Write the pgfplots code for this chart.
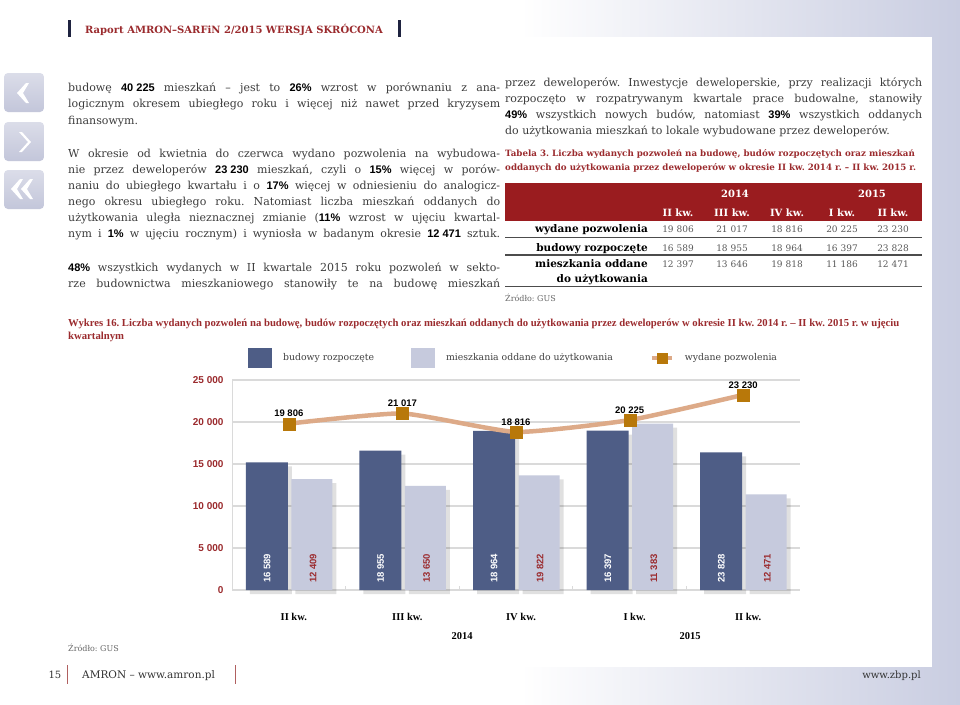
\documentclass[border=0pt]{standalone}
\usepackage{fontspec}
\usepackage{graphicx}
\usepackage{pgfplots}
\pgfplotsset{compat=1.18}
\setmainfont{DejaVu Serif}
\newfontfamily\hs{Liberation Sans}
\newfontfamily\ls{Liberation Serif}
\frenchspacing
\definecolor{dred}{HTML}{9B2B2E}
\definecolor{tred}{HTML}{9A1C1F}
\definecolor{navy}{HTML}{1F2340}
\definecolor{bdark}{HTML}{4E5D86}
\definecolor{blight}{HTML}{C6CADD}
\definecolor{linec}{HTML}{DDAA88}
\definecolor{markc}{HTML}{B8780A}
\definecolor{lav}{HTML}{C9CDE1}
\definecolor{icon}{HTML}{C3C6DA}
\definecolor{gridc}{HTML}{DADADA}
\definecolor{txt}{HTML}{3C3C3C}
\definecolor{foot}{HTML}{B06060}
\pgfplotsset{
  darkleg/.style={legend image code/.code={\fill[bdark] (0pt,-10pt) rectangle (24pt,10pt);}},
  lightleg/.style={legend image code/.code={\fill[blight] (0pt,-10pt) rectangle (24pt,10pt);}},
  lineleg/.style={legend image code/.code={\draw[##1, line width=4pt, mark size=5pt, mark repeat=2, mark phase=2] plot coordinates {(0pt,0pt) (10pt,0pt) (20pt,0pt)};}},
}
\newcommand\B[1]{\mbox{\hs\bfseries\color{black}#1}}
\newcommand\bodyfont{\fontsize{11}{16}\selectfont}
\newcommand\JL[4]{\node[anchor=base west,inner sep=0,text=txt] at (#1pt,-#2pt) {\bodyfont\makebox[#3pt][s]{#4}};}
\newcommand\LL[3]{\node[anchor=base west,inner sep=0,text=txt] at (#1pt,-#2pt) {\bodyfont #3};}
\newcommand\BL[3]{\node[rotate=90,anchor=west,inner sep=0,text=#3,font=\hs\bfseries\fontsize{9.5}{11}\selectfont] at (axis cs:#1,830) {#2};}
\begin{document}
\begin{tikzpicture}[x=1pt,y=1pt]
\useasboundingbox (0,0) rectangle (960,-704);
% background
\fill[white] (0,0) rectangle (960,-704);
\shade[left color=white,right color=lav] (520,0) rectangle (960,-704);
\fill[white] (0,-37) rectangle (932,-667);
% header
\fill[navy] (68,-20) rectangle (70.5,-37);
\fill[navy] (398,-20) rectangle (400.5,-37);
\node[anchor=base west,inner sep=0,text=dred] at (85,-33) {\fontsize{10}{12}\selectfont\bfseries Raport AMRON–SARFiN 2/2015 WERSJA SKRÓCONA};
% left icons
\foreach \t in {73,122,170} {
  \shade[top color=icon!60,bottom color=icon,rounded corners=4pt] (4,-\t) rectangle (44,-\t-39);
}
\fill[white] (26,-83) -- (17,-93) -- (26,-103) -- (29,-103) -- (23,-93) -- (29,-83) -- cycle;
\fill[white] (19,-132) -- (28,-142) -- (19,-152) -- (22,-152) -- (31,-142) -- (22,-132) -- cycle;
\fill[white] (20,-179) -- (11,-189) -- (20,-199) -- (23,-199) -- (17,-189) -- (23,-179) -- cycle;
\fill[white] (30,-179) -- (21,-189) -- (30,-199) -- (33,-199) -- (27,-189) -- (33,-179) -- cycle;
% left column text
\JL{68}{91}{432}{budowę \B{40 225} mieszkań – jest to \B{26\%} wzrost w porównaniu z ana-}
\JL{68}{107}{432}{logicznym okresem ubiegłego roku i więcej niż nawet przed kryzysem}
\LL{68}{124}{finansowym.}
\JL{68}{157}{432}{W okresie od kwietnia do czerwca wydano pozwolenia na wybudowa-}
\JL{68}{173}{432}{nie przez deweloperów \B{23 230} mieszkań, czyli o \B{15\%} więcej w porów-}
\JL{68}{189}{432}{naniu do ubiegłego kwartału i o \B{17\%} więcej w odniesieniu do analogicz-}
\JL{68}{205}{432}{nego okresu ubiegłego roku. Natomiast liczba mieszkań oddanych do}
\JL{68}{221}{432}{użytkowania uległa nieznacznej zmianie (\B{11\%} wzrost w ujęciu kwartal-}
\JL{68}{237}{432}{nym i \B{1\%} w ujęciu rocznym) i wyniosła w badanym okresie \B{12 471} sztuk.}
\JL{68}{271}{432}{\B{48\%} wszystkich wydanych w II kwartale 2015 roku pozwoleń w sekto-}
\JL{68}{287}{432}{rze budownictwa mieszkaniowego stanowiły te na budowę mieszkań}
% right column text
\JL{505}{86}{417}{przez deweloperów. Inwestycje deweloperskie, przy realizacji których}
\JL{505}{102}{417}{rozpoczęto w rozpatrywanym kwartale prace budowalne, stanowiły}
\JL{505}{118}{417}{\B{49\%} wszystkich nowych budów, natomiast \B{39\%} wszystkich oddanych}
\LL{505}{134}{do użytkowania mieszkań to lokale wybudowane przez deweloperów.}
% table caption
\node[anchor=base west,inner sep=0,text=dred] at (505,-156) {\fontsize{8.7}{10}\selectfont\bfseries Tabela 3. Liczba wydanych pozwoleń na budowę, budów rozpoczętych oraz mieszkań};
\node[anchor=base west,inner sep=0,text=dred] at (505,-170) {\fontsize{8.7}{10}\selectfont\bfseries oddanych do użytkowania przez deweloperów w okresie II kw. 2014 r. – II kw. 2015 r.};
% table
\fill[tred] (505,-183) rectangle (922,-221);
\foreach \x/\s in {735/2014,872/2015} {\node[anchor=base,inner sep=0,text=white] at (\x,-197) {\fontsize{10}{12}\selectfont\bfseries \s};}
\foreach \x/\s in {678/II kw.,732/III kw.,787/IV kw.,842/I kw.,893/II kw.} {\node[anchor=base,inner sep=0,text=white] at (\x,-216) {\fontsize{10}{12}\selectfont\bfseries \s};}
\foreach \y in {237.5,255,286.7} {\draw[line width=1.4pt,black!70] (505,-\y) -- (922,-\y);}
\node[anchor=base east,inner sep=0] at (648,-232) {\fontsize{10.5}{12}\selectfont\bfseries wydane pozwolenia};
\node[anchor=base east,inner sep=0] at (648,-251) {\fontsize{10.5}{12}\selectfont\bfseries budowy rozpoczęte};
\node[anchor=base east,inner sep=0] at (648,-267) {\fontsize{10.5}{12}\selectfont\bfseries mieszkania oddane};
\node[anchor=base east,inner sep=0] at (648,-282) {\fontsize{10.5}{12}\selectfont\bfseries do użytkowania};
\foreach \x/\a/\b/\c in {678/19 806/16 589/12 397,732/21 017/18 955/13 646,787/18 816/18 964/19 818,842/20 225/16 397/11 186,893/23 230/23 828/12 471} {
  \node[anchor=base,inner sep=0,text=black!65] at (\x,-232) {\fontsize{9}{11}\selectfont \a};
  \node[anchor=base,inner sep=0,text=black!65] at (\x,-251) {\fontsize{9}{11}\selectfont \b};
  \node[anchor=base,inner sep=0,text=black!65] at (\x,-267) {\fontsize{9}{11}\selectfont \c};
}
\node[anchor=base west,inner sep=0,text=black!60] at (505,-301) {\fontsize{8}{10}\selectfont Źródło: GUS};
% chart caption
\node[anchor=base west,inner sep=0,text=dred] at (68,-326) {\ls\fontsize{10.7}{12}\selectfont\bfseries Wykres 16. Liczba wydanych pozwoleń na budowę, budów rozpoczętych oraz mieszkań oddanych do użytkowania przez deweloperów w okresie II kw. 2014 r. – II kw. 2015 r. w ujęciu};
\node[anchor=base west,inner sep=0,text=dred] at (68,-339) {\ls\fontsize{10.7}{12}\selectfont\bfseries kwartalnym};
% years
\node[text=black] at (462,-636) {\ls\fontsize{10.5}{12}\selectfont\bfseries 2014};
\node[text=black] at (690,-636) {\ls\fontsize{10.5}{12}\selectfont\bfseries 2015};
\node[anchor=base west,inner sep=0,text=black!60] at (68,-651) {\fontsize{8}{10}\selectfont Źródło: GUS};
% footer
\node[anchor=base,inner sep=0,text=black!80] at (55,-678) {\fontsize{10}{12}\selectfont 15};
\fill[foot] (66.5,-665) rectangle (68,-684);
\node[anchor=base west,inner sep=0,text=black!80] at (82,-678) {\fontsize{10.5}{12}\selectfont AMRON – www.amron.pl};
\fill[foot] (234.5,-665) rectangle (236,-684);
\node[anchor=base east,inner sep=0,text=black!80] at (921,-678) {\fontsize{10}{12}\selectfont www.zbp.pl};
% chart
\begin{axis}[
  at={(232pt,-590pt)}, anchor=south west, scale only axis, width=568pt, height=210pt,
  xmin=-0.5, xmax=4.5, ymin=0, ymax=25000, clip=false,
  scaled y ticks=false,
  axis x line*=bottom, axis y line*=left,
  axis line style={-, draw=gridc, line width=1pt},
  ytick={0,5000,10000,15000,20000,25000},
  yticklabels={0,5 000,10 000,15 000,20 000,25 000},
  ymajorgrids, grid style={draw=gridc, line width=1.4pt},
  xtick={0,1,2,3,4}, xticklabels={II kw.,III kw.,IV kw.,I kw.,II kw.},
  major tick length=0pt,
  extra x ticks={0.5,1.5,2.5,3.5}, extra x tick labels={},
  extra x tick style={major tick length=4pt, tick align=inside, tick style={draw=gridc, line width=0.8pt}, grid=none},
  yticklabel style={font=\hs\bfseries\fontsize{10}{12}\selectfont, text=dred, xshift=-5pt},
  xticklabel style={font=\ls\bfseries\fontsize{10.5}{12}\selectfont, text=black, yshift=-20pt, xshift=5pt},
  legend columns=3,
  legend style={at={(0.028,1.105)}, anchor=west, draw=none, fill=none,
    font=\fontsize{9.3}{11}\selectfont, text=black!75, inner sep=0pt,
    /tikz/every odd column/.append style={column sep=9pt},
    /tikz/every even column/.append style={column sep=35pt}},
  legend cell align=left,
]
% shadows
\addplot[ybar, bar width=42pt, bar shift=-18pt, fill=black, fill opacity=0.12, draw=none, forget plot, yshift=-4pt]
  coordinates {(0,15200) (1,16589) (2,18955) (3,18964) (4,16397)};
\addplot[ybar, bar width=41pt, bar shift=27pt, fill=black, fill opacity=0.12, draw=none, forget plot, yshift=-4pt]
  coordinates {(0,13200) (1,12409) (2,13650) (3,19822) (4,11383)};
% bars
\addplot[ybar, bar width=42pt, bar shift=-22pt, fill=bdark, draw=none, darkleg]
  coordinates {(0,15200) (1,16589) (2,18955) (3,18964) (4,16397)};
\addlegendentry{budowy rozpoczęte}
\addplot[ybar, bar width=41pt, bar shift=23pt, fill=blight, draw=none, lightleg]
  coordinates {(0,13200) (1,12409) (2,13650) (3,19822) (4,11383)};
\addlegendentry{mieszkania oddane do użytkowania}
% line
\addplot[draw=linec, line width=4.5pt, smooth, tension=0.3, mark=square*, mark size=6pt,
  mark options={fill=markc, draw=markc, line width=0.1pt},
  nodes near coords, point meta=explicit symbolic,
  every node near coord/.append style={font=\hs\bfseries\fontsize{9.5}{11}\selectfont, text=black, anchor=south, inner sep=0pt, yshift=6.5pt},
  lineleg]
  coordinates {(0,19806) [19 806] (1,21017) [21 017] (2,18816) [18 816] (3,20225) [20 225] (4,23230) [23 230]};
\addlegendentry{wydane pozwolenia}
% bar labels
\BL{-0.192}{16 589}{white} \BL{0.213}{12 409}{dred}
\BL{0.808}{18 955}{white} \BL{1.213}{13 650}{dred}
\BL{1.808}{18 964}{white} \BL{2.213}{19 822}{dred}
\BL{2.808}{16 397}{white} \BL{3.213}{11 383}{dred}
\BL{3.808}{23 828}{white} \BL{4.213}{12 471}{dred}
\end{axis}
\end{tikzpicture}
\end{document}
